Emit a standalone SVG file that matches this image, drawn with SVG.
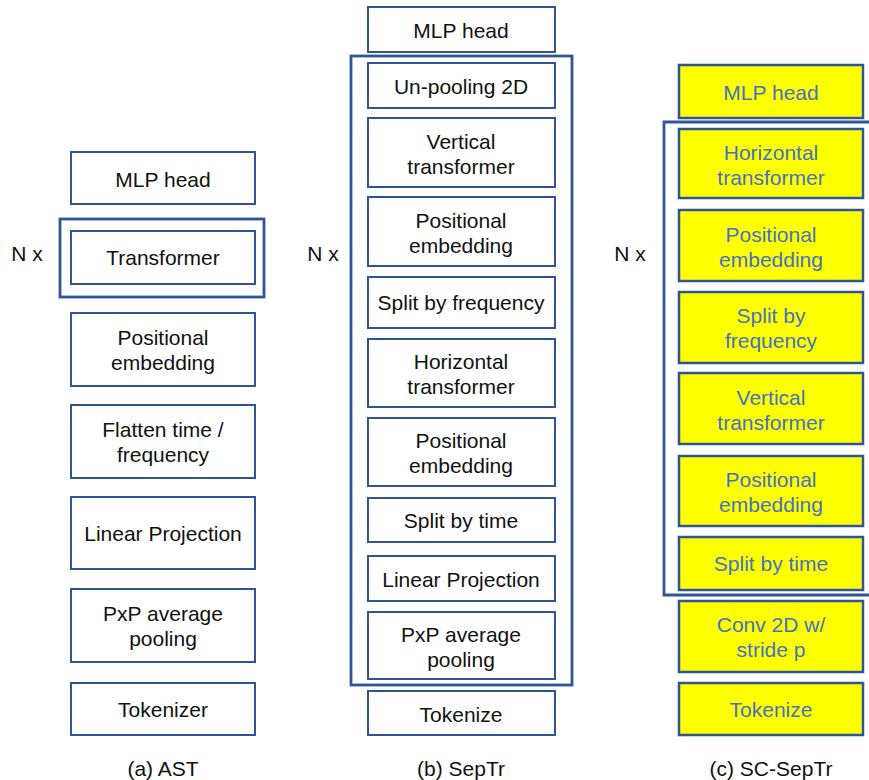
<svg xmlns="http://www.w3.org/2000/svg" width="869" height="780" viewBox="0 0 869 780">
<style>
text{font-family:"Liberation Sans",Arial,sans-serif;font-size:21px;text-anchor:middle;fill:#111}
.box{fill:#fff;stroke:#2F5597;stroke-width:2}
.ybox{fill:#FFFF00;stroke:#2F5597;stroke-width:2.5}
.yt{fill:#4472C4}
.frame{fill:none;stroke:#2F5597;stroke-width:2.8}
</style>
<rect width="869" height="780" fill="#fff"/>
<g transform="translate(0,0)">
<g id="col-a">
<g id="a-frame"><rect class="frame" x="60" y="219" width="204" height="78"/><text x="27" y="261">N x</text></g>
<g id="a-mlp"><rect class="box" x="71" y="152" width="184" height="52"/><text x="163" y="187">MLP head</text></g>
<g id="a-transformer"><rect class="box" x="71" y="231" width="184" height="53"/><text x="163" y="265">Transformer</text></g>
<g id="a-pos"><rect class="box" x="71" y="313" width="184" height="73"/><text x="163" y="345">Positional</text><text x="163" y="370">embedding</text></g>
<g id="a-flatten"><rect class="box" x="71" y="405" width="184" height="73"/><text x="163" y="437">Flatten time /</text><text x="163" y="462">frequency</text></g>
<g id="a-linear"><rect class="box" x="71" y="497" width="184" height="72"/><text x="163" y="541">Linear Projection</text></g>
<g id="a-pxp"><rect class="box" x="71" y="589" width="184" height="73"/><text x="163" y="621">PxP average</text><text x="163" y="646">pooling</text></g>
<g id="a-tok"><rect class="box" x="71" y="683" width="184" height="52"/><text x="163" y="717">Tokenizer</text></g>
<text x="163" y="776">(a) AST</text>
</g>
<g id="col-b">
<g id="b-frame"><rect class="frame" x="351" y="56" width="221" height="629"/><text x="323" y="261">N x</text></g>
<g id="b-mlp"><rect class="box" x="368" y="7" width="187" height="45"/><text x="461" y="38">MLP head</text></g>
<g id="b-unpool"><rect class="box" x="368" y="63" width="187" height="45"/><text x="461" y="94">Un-pooling 2D</text></g>
<g id="b-vert"><rect class="box" x="368" y="118" width="187" height="69"/><text x="461" y="149">Vertical</text><text x="461" y="174">transformer</text></g>
<g id="b-pos1"><rect class="box" x="368" y="197" width="187" height="69"/><text x="461" y="228">Positional</text><text x="461" y="253">embedding</text></g>
<g id="b-splitf"><rect class="box" x="368" y="277" width="187" height="51"/><text x="461" y="310">Split by frequency</text></g>
<g id="b-horiz"><rect class="box" x="368" y="339" width="187" height="68"/><text x="461" y="369">Horizontal</text><text x="461" y="394">transformer</text></g>
<g id="b-pos2"><rect class="box" x="368" y="418" width="187" height="68"/><text x="461" y="448">Positional</text><text x="461" y="473">embedding</text></g>
<g id="b-splitt"><rect class="box" x="368" y="498" width="187" height="44"/><text x="461" y="528">Split by time</text></g>
<g id="b-linear"><rect class="box" x="368" y="556" width="187" height="45"/><text x="461" y="587">Linear Projection</text></g>
<g id="b-pxp"><rect class="box" x="368" y="612" width="187" height="67"/><text x="461" y="642">PxP average</text><text x="461" y="667">pooling</text></g>
<g id="b-tok"><rect class="box" x="368" y="691" width="187" height="44"/><text x="461" y="722">Tokenize</text></g>
<text x="461" y="776">(b) SepTr</text>
</g>
<g id="col-c">
<g id="c-frame"><path class="frame" d="M869,122 H664 V595 H869"/><text x="630" y="261">N x</text></g>
<g id="c-mlp"><rect class="ybox" x="679" y="65" width="184" height="53"/><text class="yt" x="771" y="100">MLP head</text></g>
<g id="c-horiz"><rect class="ybox" x="679" y="129" width="184" height="69"/><text class="yt" x="771" y="160">Horizontal</text><text class="yt" x="771" y="185">transformer</text></g>
<g id="c-pos1"><rect class="ybox" x="679" y="210" width="184" height="71"/><text class="yt" x="771" y="242">Positional</text><text class="yt" x="771" y="267">embedding</text></g>
<g id="c-splitf"><rect class="ybox" x="679" y="292" width="184" height="71"/><text class="yt" x="771" y="323">Split by</text><text class="yt" x="771" y="348">frequency</text></g>
<g id="c-vert"><rect class="ybox" x="679" y="373" width="184" height="71"/><text class="yt" x="771" y="405">Vertical</text><text class="yt" x="771" y="430">transformer</text></g>
<g id="c-pos2"><rect class="ybox" x="679" y="456" width="184" height="70"/><text class="yt" x="771" y="487">Positional</text><text class="yt" x="771" y="512">embedding</text></g>
<g id="c-splitt"><rect class="ybox" x="679" y="537" width="184" height="53"/><text class="yt" x="771" y="571">Split by time</text></g>
<g id="c-conv"><rect class="ybox" x="679" y="601" width="184" height="71"/><text class="yt" x="771" y="632">Conv 2D w/</text><text class="yt" x="771" y="657">stride p</text></g>
<g id="c-tok"><rect class="ybox" x="679" y="683" width="184" height="52"/><text class="yt" x="771" y="717">Tokenize</text></g>
<text x="771" y="776">(c) SC-SepTr</text>
</g>
</g>
<g id="connectors"></g>
</svg>
